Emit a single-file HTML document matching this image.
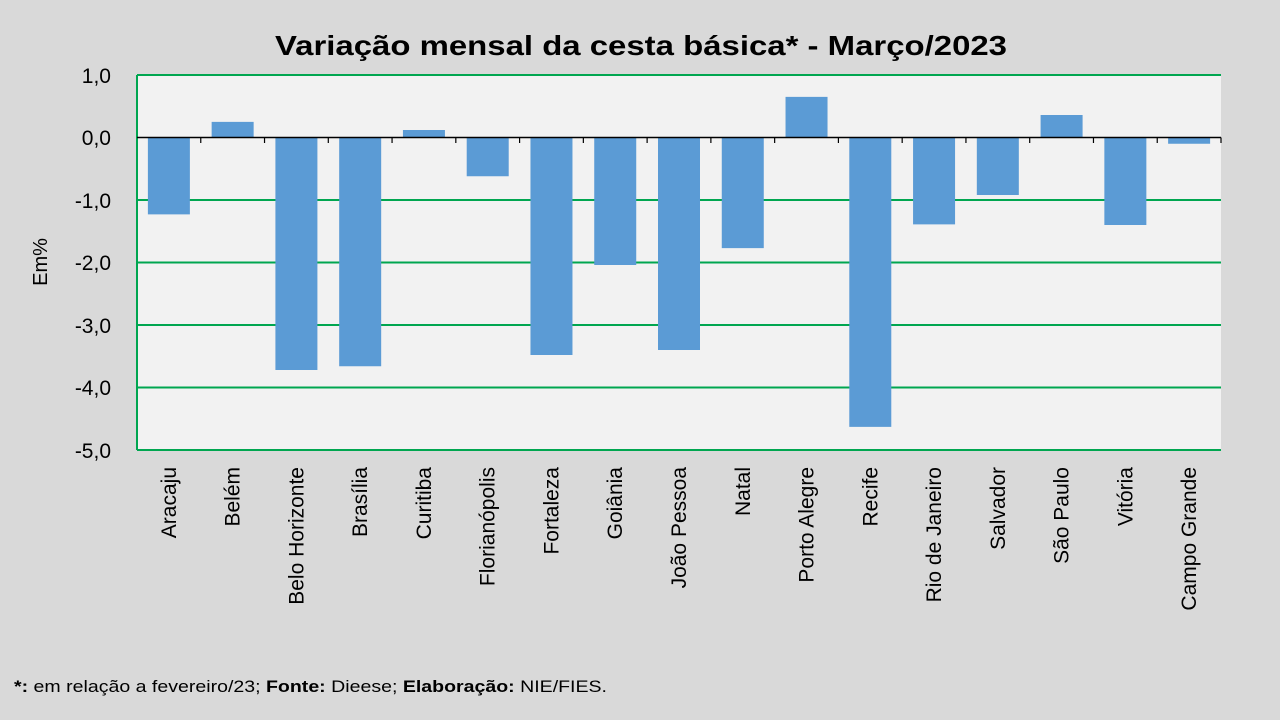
<!DOCTYPE html>
<html><head><meta charset="utf-8"><style>
html,body{margin:0;padding:0;background:#d9d9d9;}
svg{display:block;font-family:"Liberation Sans",sans-serif;}
</style></head><body>
<svg width="1280" height="720" viewBox="0 0 1280 720" xmlns="http://www.w3.org/2000/svg">
<rect width="1280" height="720" fill="#d9d9d9"/>
<text x="275" y="55" textLength="732" lengthAdjust="spacingAndGlyphs" font-size="28" font-weight="bold" fill="#000">Variação  mensal da cesta básica* - Março/2023</text>
<rect x="137" y="75" width="1084" height="375" fill="#f2f2f2"/>
<g stroke="#00a650" stroke-width="2">
<line x1="137" y1="75" x2="1221" y2="75"/>
<line x1="137" y1="200" x2="1221" y2="200"/>
<line x1="137" y1="262.5" x2="1221" y2="262.5"/>
<line x1="137" y1="325" x2="1221" y2="325"/>
<line x1="137" y1="387.5" x2="1221" y2="387.5"/>
<line x1="137" y1="450" x2="1221" y2="450"/>
</g>
<line x1="137" y1="75" x2="137" y2="450" stroke="#00a650" stroke-width="2"/>
<g font-size="21" text-anchor="end" fill="#000">
<text x="111" y="83">1,0</text>
<text x="111" y="145">0,0</text>
<text x="111" y="208">-1,0</text>
<text x="111" y="270">-2,0</text>
<text x="111" y="333">-3,0</text>
<text x="111" y="395">-4,0</text>
<text x="111" y="458">-5,0</text>
</g>
<text transform="translate(47,262) rotate(-90)" font-size="20" text-anchor="middle">Em%</text>
<g fill="#5b9bd5" id="bars"></g>
<line x1="137" y1="137.5" x2="1221" y2="137.5" stroke="#000" stroke-width="1.5"/>
<g id="ticks" stroke="#000" stroke-width="1.2"></g>
<g id="labels" font-size="20" fill="#000"></g>
<text x="14" y="692" font-size="17" textLength="593" lengthAdjust="spacingAndGlyphs"><tspan font-weight="bold">*:</tspan> em relação a fevereiro/23; <tspan font-weight="bold">Fonte:</tspan> Dieese; <tspan font-weight="bold">Elaboração:</tspan> NIE/FIES.</text>
<script>
var d=[["Aracaju",-1.23],["Belém",0.25],["Belo Horizonte",-3.72],["Brasília",-3.66],["Curitiba",0.12],["Florianópolis",-0.62],["Fortaleza",-3.48],["Goiânia",-2.04],["João Pessoa",-3.4],["Natal",-1.77],["Porto Alegre",0.65],["Recife",-4.63],["Rio de Janeiro",-1.39],["Salvador",-0.92],["São Paulo",0.36],["Vitória",-1.4],["Campo Grande",-0.1]];
var ns="http://www.w3.org/2000/svg",w=1084/17,b=document.getElementById("bars"),t=document.getElementById("ticks"),l=document.getElementById("labels");
d.forEach(function(e,i){var c=137+w*(i+0.5),y0=137.5,y=137.5-e[1]*62.5;
var r=document.createElementNS(ns,"rect");r.setAttribute("x",c-21);r.setAttribute("width",42);r.setAttribute("y",Math.min(y,y0));r.setAttribute("height",Math.abs(y-y0));b.appendChild(r);
var k=document.createElementNS(ns,"line");var x=137+w*(i+1);k.setAttribute("x1",x);k.setAttribute("x2",x);k.setAttribute("y1",137.5);k.setAttribute("y2",143);t.appendChild(k);
var s=document.createElementNS(ns,"text");s.setAttribute("transform","translate("+(c+7)+",467) rotate(-90)");s.setAttribute("text-anchor","end");s.setAttribute("font-size","21");s.textContent=e[0];l.appendChild(s);});
</script>
</svg>
</body></html>
